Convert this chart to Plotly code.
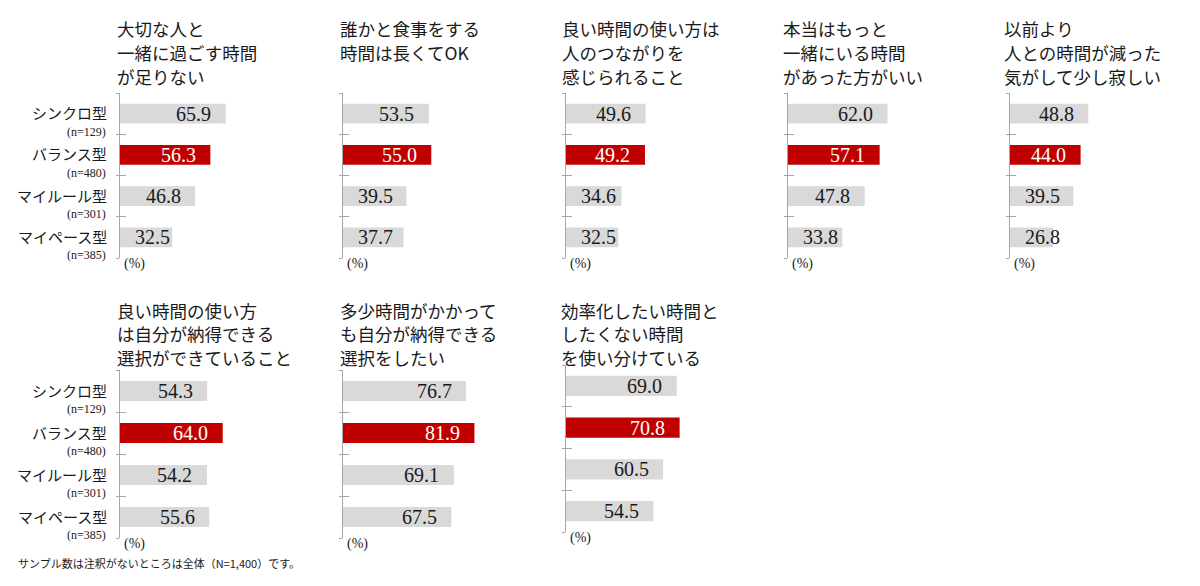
import plotly.graph_objects as go

# ---------------- data ----------------
categories = ["シンクロ型", "バランス型", "マイルール型", "マイペース型"]
sample_sizes = ["(n=129)", "(n=480)", "(n=301)", "(n=385)"]

titles = [
    "大切な人と<br>一緒に過ごす時間<br>が足りない",
    "誰かと食事をする<br>時間は長くてOK",
    "良い時間の使い方は<br>人のつながりを<br>感じられること",
    "本当はもっと<br>一緒にいる時間<br>があった方がいい",
    "以前より<br>人との時間が減った<br>気がして少し寂しい",
    "良い時間の使い方<br>は自分が納得できる<br>選択ができていること",
    "多少時間がかかって<br>も自分が納得できる<br>選択をしたい",
    "効率化したい時間と<br>したくない時間<br>を使い分けている",
]

q1_values = [65.9, 56.3, 46.8, 32.5]
q2_values = [53.5, 55.0, 39.5, 37.7]
q3_values = [49.6, 49.2, 34.6, 32.5]
q4_values = [62.0, 57.1, 47.8, 33.8]
q5_values = [48.8, 44.0, 39.5, 26.8]
q6_values = [54.3, 64.0, 54.2, 55.6]
q7_values = [76.7, 81.9, 69.1, 67.5]
q8_values = [69.0, 70.8, 60.5, 54.5]
series = [q1_values, q2_values, q3_values, q4_values,
          q5_values, q6_values, q7_values, q8_values]

footnote = "サンプル数は注釈がないところは全体（N=1,400）です。"
unit_label = "(%)"

# ---------------- layout constants ----------------
W, H = 1200, 586
GRAY = "#d9d9d9"
RED = "#c00000"
AXIS = "#a6a6a6"
TXT = "#1a1a1a"
JP = "Noto Sans CJK JP"
SERIF = "Liberation Serif"

bar_colors = [GRAY, RED, GRAY, GRAY]
axis_x_px = [120, 343, 566, 788, 1010, 120, 343, 566]
axis_top_px = [93, 93, 93, 93, 93, 370, 370, 365]
axis_h_px = [165, 165, 165, 165, 165, 168, 168, 167]
title_x_px = [115, 338, 560, 781, 1002, 115, 338, 559]
title_line1_px = [28.5, 28.5, 28.5, 28.5, 28.5, 310, 310, 310]
title_step_px = [24, 24, 24, 24, 24, 23.5, 23.5, 23.5]
x_span_px = 160.5     # pixels for 0..100 %
x_max = 100.0
px_per_unit = x_span_px / x_max

ypos = list(range(len(categories)))
bounds = [i - 0.5 for i in range(len(categories) + 1)]


def aid(n):
    return "" if n == 1 else str(n)


fig = go.Figure()
annotations = []
layout_axes = {}

for i, vals in enumerate(series):
    n = i + 1
    xs, ys, yo = aid(n), aid(n), aid(n + 8)
    xd0 = axis_x_px[i] / W
    xd1 = (axis_x_px[i] + x_span_px) / W
    yd1 = 1 - axis_top_px[i] / H
    yd0 = 1 - (axis_top_px[i] + axis_h_px[i]) / H

    fig.add_trace(go.Bar(
        x=vals, y=ypos, orientation="h", width=0.48,
        marker=dict(color=bar_colors, line=dict(width=0)),
        xaxis=f"x{xs}", yaxis=f"y{ys}", showlegend=False, hoverinfo="skip",
    ))
    fig.add_trace(go.Scatter(
        x=[], y=[], xaxis=f"x{xs}", yaxis=f"y{yo}",
        showlegend=False, hoverinfo="skip",
    ))

    layout_axes[f"xaxis{xs}"] = dict(
        domain=[xd0, xd1], range=[0, x_max], anchor=f"y{ys}",
        showgrid=False, zeroline=False, showline=False,
        showticklabels=False, ticks="", fixedrange=True,
    )
    layout_axes[f"yaxis{ys}"] = dict(
        domain=[yd0, yd1], range=[bounds[-1], bounds[0]], anchor=f"x{xs}",
        showgrid=False, zeroline=False, showline=True, linecolor=AXIS,
        linewidth=1, tickmode="array", tickvals=bounds, ticks="outside",
        ticklen=3, tickcolor=AXIS, tickwidth=1, showticklabels=False,
        fixedrange=True,
    )
    layout_axes[f"yaxis{yo}"] = dict(
        overlaying=f"y{ys}", range=[bounds[-1], bounds[0]], anchor=f"x{xs}",
        side="left", showgrid=False, zeroline=False, showline=False,
        tickmode="array", tickvals=bounds, ticks="inside", ticklen=6,
        tickcolor=AXIS, tickwidth=1, showticklabels=False, fixedrange=True,
    )

    # panel title, one annotation per line
    for k, line in enumerate(titles[i].split("<br>")):
        cy = title_line1_px[i] + k * title_step_px[i]
        annotations.append(dict(
            text=line, xref="paper", yref="paper",
            x=title_x_px[i] / W, y=1 - cy / H,
            xanchor="left", yanchor="middle", align="left", showarrow=False,
            font=dict(family=JP, size=17.5, color=TXT),
        ))

    # value labels inside the bars
    for j, v in enumerate(vals):
        if v * px_per_unit - 32 >= 32:
            ax, shift = v, -32
        else:
            ax, shift = 0, 32
        annotations.append(dict(
            text=f"{v:.1f}", xref=f"x{xs}", yref=f"y{ys}", x=ax, y=ypos[j],
            xshift=shift, xanchor="center", yanchor="middle", showarrow=False,
            font=dict(family=SERIF, size=20,
                      color="#ffffff" if bar_colors[j] == RED else TXT),
        ))

    # (%) unit label
    annotations.append(dict(
        text=unit_label, xref=f"x{xs} domain", yref=f"y{ys} domain", x=0, y=0,
        xshift=2, yshift=-6, xanchor="left", yanchor="middle", showarrow=False,
        font=dict(family=SERIF, size=14, color=TXT),
    ))

    # category labels for the first panel of each row
    if n in (1, 6):
        for j, (c, s) in enumerate(zip(categories, sample_sizes)):
            annotations.append(dict(
                text=c, xref="paper", yref=f"y{ys}", x=109 / W, y=ypos[j],
                yshift=1, xanchor="right", yanchor="middle", showarrow=False,
                font=dict(family=JP, size=15, color=TXT),
            ))
            annotations.append(dict(
                text=s, xref="paper", yref=f"y{ys}", x=108 / W, y=ypos[j],
                yshift=-18, xanchor="right", yanchor="middle", showarrow=False,
                font=dict(family=SERIF, size=12, color=TXT),
            ))

annotations.append(dict(
    text=footnote, xref="paper", yref="paper", x=16 / W, y=1 - 563 / H,
    xanchor="left", yanchor="middle", showarrow=False,
    font=dict(family=JP, size=11, color=TXT),
))

fig.update_layout(
    width=W, height=H, margin=dict(l=0, r=0, t=0, b=0),
    paper_bgcolor="white", plot_bgcolor="rgba(0,0,0,0)",
    barmode="overlay", annotations=annotations, showlegend=False,
    font=dict(family=JP),
    **layout_axes,
)

fig.write_html("out.html", config={"displayModeBar": False})
